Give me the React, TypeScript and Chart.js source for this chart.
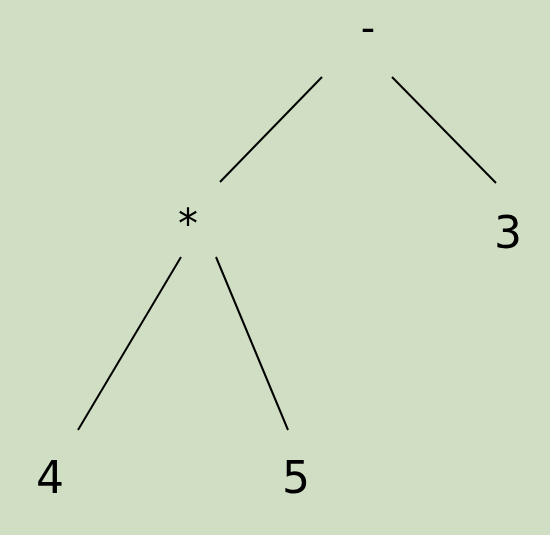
import React, { useEffect, useRef } from "react"
import Chart from "chart.js/auto"

// expression tree: (4 * 5) - 3, laid out in pixel-like units
const nodeLabels = ["-", "*", "3", "4", "5"]
const nodeX = [368, 188, 508, 50, 296]
const nodeY = [32, 228, 237, 482, 482]
const nodeSize = [40, 40, 44, 44, 44]

// edges: start and end points
const edgeX1 = [322, 392, 181, 216]
const edgeY1 = [77, 77, 257, 257]
const edgeX2 = [220, 496, 78, 288]
const edgeY2 = [182, 183, 430, 430]

const labelPlugin = {
    id: "nodeLabels",
    afterDatasetsDraw(chart: any) {
        const { ctx, scales } = chart
        ctx.save()
        ctx.fillStyle = "#000"
        ctx.textAlign = "center"
        ctx.textBaseline = "middle"
        nodeLabels.forEach((t, i) => {
            ctx.font = nodeSize[i] + "px 'DejaVu Sans'"
            ctx.fillText(t, scales.x.getPixelForValue(nodeX[i]), scales.y.getPixelForValue(nodeY[i]))
        })
        ctx.restore()
    },
}

const bgPlugin = {
    id: "bg",
    beforeDraw(chart: any) {
        const { ctx, width, height } = chart
        ctx.save()
        ctx.fillStyle = "#d0dfc3"
        ctx.fillRect(0, 0, width, height)
        ctx.restore()
    },
}

const App = () => {
    const chartRef = useRef<HTMLCanvasElement | null>(null)

    useEffect(() => {
        document.body.style.margin = "0"
        const ctx = chartRef.current?.getContext("2d")
        if (!ctx) return
        const chart = new Chart(ctx, {
            type: "scatter",
            data: {
                datasets: edgeX1.map((x, i) => ({
                    type: "line" as const,
                    data: [
                        { x, y: edgeY1[i] },
                        { x: edgeX2[i], y: edgeY2[i] },
                    ],
                    borderColor: "#000",
                    borderWidth: 2,
                    pointRadius: 0,
                })),
            },
            options: {
                animation: false,
                responsive: false,
                layout: { padding: 0 },
                plugins: { legend: { display: false }, tooltip: { enabled: false } },
                scales: {
                    x: { type: "linear", min: 0, max: 550, display: false },
                    y: { type: "linear", min: 0, max: 535, reverse: true, display: false },
                },
            },
            plugins: [bgPlugin, labelPlugin],
        })
        return () => chart.destroy()
    }, [])

    return <canvas ref={chartRef} width={550} height={535} style={{ display: "block" }} />
}

export default App
